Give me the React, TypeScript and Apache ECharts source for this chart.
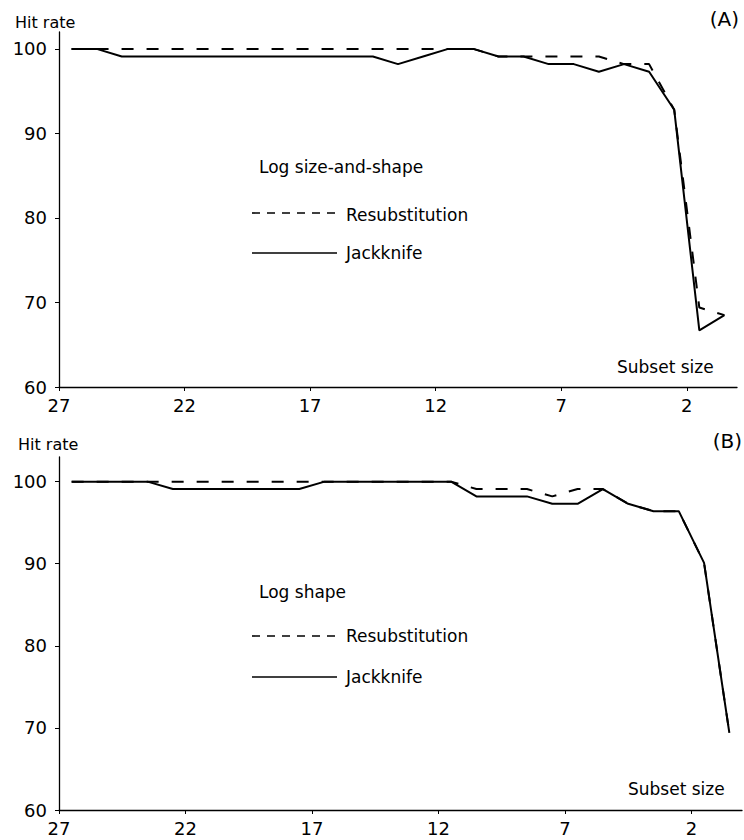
import React, { useEffect, useRef } from "react";
import * as echarts from "echarts";

// Subset sizes (x), from 27 down to 1
const subsetSizes = [27, 26, 25, 24, 23, 22, 21, 20, 19, 18, 17, 16, 15, 14, 13, 12, 11, 10, 9, 8, 7, 6, 5, 4, 3, 2, 1];

// Panel A: Log size-and-shape
const resubA = [100, 100, 100, 100, 100, 100, 100, 100, 100, 100, 100, 100, 100, 100, 100, 100, 100, 99.1, 99.1, 99.1, 99.1, 99.1, 98.2, 98.2, 92.8, 69.4, 68.5];
const jackA = [100, 100, 99.1, 99.1, 99.1, 99.1, 99.1, 99.1, 99.1, 99.1, 99.1, 99.1, 99.1, 98.2, 99.1, 100, 100, 99.1, 99.1, 98.2, 98.2, 97.3, 98.2, 97.3, 92.8, 66.7, 68.5];

// Panel B: Log shape
const resubB = [100, 100, 100, 100, 100, 100, 100, 100, 100, 100, 100, 100, 100, 100, 100, 100, 99.1, 99.1, 99.1, 98.2, 99.1, 99.1, 97.3, 96.4, 96.4, 90.1, 69.4];
const jackB = [100, 100, 100, 100, 99.1, 99.1, 99.1, 99.1, 99.1, 99.1, 100, 100, 100, 100, 100, 100, 98.2, 98.2, 98.2, 97.3, 97.3, 99.1, 97.3, 96.4, 96.4, 90.1, 69.4];

const xTickLabels = [27, 22, 17, 12, 7, 2];
const yTickLabels = [60, 70, 80, 90, 100];

const FONT = "DejaVu Sans";

export default function App() {
  const ref = useRef<HTMLDivElement>(null);
  useEffect(() => {
    document.body.style.margin = "0";
    const chart = echarts.init(ref.current!, null, { renderer: "svg" });
    const pairs = (vals: number[]) => subsetSizes.map((s, i) => [s, vals[i]]);
    const xTickPos = xTickLabels.map((v) => v + 0.5);

    const xAxisBase = (gridIndex: number) => ({
      type: "value",
      gridIndex,
      inverse: true,
      min: 0.5,
      max: 27.5,
      splitLine: { show: false },
      axisLine: { show: true, lineStyle: { color: "#000", width: 1.3 } },
      axisTick: { show: true, length: 4, customValues: xTickPos, lineStyle: { color: "#000", width: 1 } },
      axisLabel: {
        customValues: xTickPos,
        formatter: (v: number) => String(Math.round(v - 0.5)),
        margin: 9,
        fontFamily: FONT,
        fontSize: 18,
        color: "#000",
      },
    });
    const yAxisBase = (gridIndex: number, max: number) => ({
      type: "value",
      gridIndex,
      min: 60,
      max,
      splitLine: { show: false },
      axisLine: { show: true, lineStyle: { color: "#000", width: 1.3 } },
      axisTick: { show: true, length: 4, customValues: yTickLabels, lineStyle: { color: "#000", width: 1 } },
      axisLabel: {
        customValues: yTickLabels,
        margin: 12,
        fontFamily: FONT,
        fontSize: 18,
        color: "#000",
      },
    });

    const lineSeries = (name: string, vals: number[], idx: number, dashed: boolean) => ({
      type: "line",
      name,
      xAxisIndex: idx,
      yAxisIndex: idx,
      data: pairs(vals),
      symbol: "none",
      lineStyle: { color: "#000", width: 2, type: dashed ? [12, 13] : "solid" },
      z: dashed ? 3 : 2,
    });

    const txt = (text: string, x: number, y: number, size: number, align = "left") => ({
      type: "text",
      x,
      y,
      style: { text, font: `${size}px "${FONT}"`, fill: "#000", align, verticalAlign: "middle" },
    });
    const seg = (x1: number, x2: number, y: number, dashed: boolean) => ({
      type: "line",
      shape: { x1, y1: y, x2, y2: y },
      style: { stroke: "#000", lineWidth: 1.6, lineDash: dashed ? [8, 7] : null },
    });

    chart.setOption({
      animation: false,
      grid: [
        { left: 59, right: 7, top: 32, bottom: 453, containLabel: false },
        { left: 59, right: 2, top: 457, bottom: 30, containLabel: false },
      ],
      xAxis: [xAxisBase(0), xAxisBase(1)],
      yAxis: [yAxisBase(0, 102), yAxisBase(1, 103)],
      series: [
        lineSeries("Jackknife", jackA, 0, false),
        lineSeries("Resubstitution", resubA, 0, true),
        lineSeries("Jackknife", jackB, 1, false),
        lineSeries("Resubstitution", resubB, 1, true),
      ],
      graphic: [
        txt("Hit rate", 15, 22, 16),
        txt("(A)", 739, 19, 20, "right"),
        txt("Log size-and-shape", 259, 167, 17),
        seg(252, 337, 213, true),
        txt("Resubstitution", 346, 215, 17),
        seg(252, 337, 253, false),
        txt("Jackknife", 346, 253, 17),
        txt("Subset size", 617, 367, 17),
        txt("Hit rate", 18, 444, 16),
        txt("(B)", 742, 441, 20, "right"),
        txt("Log shape", 259, 592, 17),
        seg(252, 337, 636, true),
        txt("Resubstitution", 346, 636, 17),
        seg(252, 337, 677, false),
        txt("Jackknife", 346, 677, 17),
        txt("Subset size", 628, 789, 17),
      ],
    });
    return () => chart.dispose();
  }, []);
  return <div ref={ref} style={{ width: 744, height: 840 }} />;
}
